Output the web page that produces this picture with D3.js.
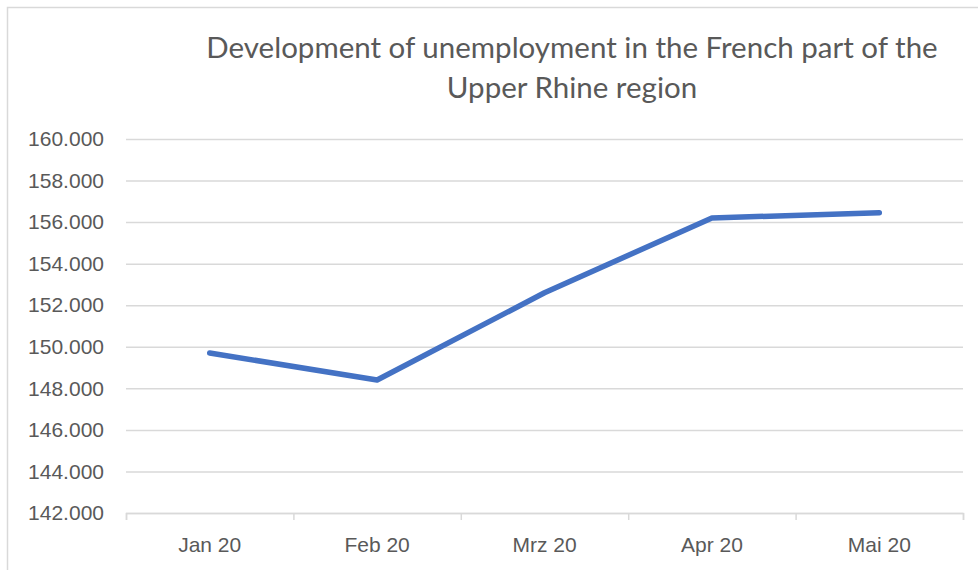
<!DOCTYPE html>
<html>
<head>
<meta charset="utf-8">
<script src="https://cdn.jsdelivr.net/npm/d3@7/dist/d3.min.js"></script>
<style>
  body { margin: 0; background: #fff; }
  svg { display: block; font-family: Lato, "Open Sans", sans-serif; }
  .axis path, .axis line { stroke: #d9d9d9; }
  .axis text { fill: #595959; }
</style>
</head>
<body>
<svg id="chart" width="978" height="570"></svg>
<script>
// chart data
var months = ["Jan 20", "Feb 20", "Mrz 20", "Apr 20", "Mai 20"];
var unemployed = [149700, 148400, 152600, 156200, 156450];
var yTicks = [142000, 144000, 146000, 148000, 150000, 152000, 154000, 156000, 158000, 160000];
var titleLines = ["Development of unemployment in the French part of the", "Upper Rhine region"];

var svg = d3.select("#chart");
var margin = { top: 139, right: 15, bottom: 57, left: 126 };
var width = +svg.attr("width") - margin.left - margin.right;
var height = +svg.attr("height") - margin.top - margin.bottom;

// outer frame
svg.append("rect")
  .attr("x", 7.5).attr("y", 7.5)
  .attr("width", 980).attr("height", 580)
  .attr("fill", "none")
  .attr("stroke", "#d9d9d9")
  .attr("stroke-width", 1.5);

// title
svg.append("text")
  .attr("x", 572)
  .attr("y", 58)
  .attr("text-anchor", "middle")
  .attr("font-size", 29.5)
  .attr("fill", "#595959")
  .selectAll("tspan")
  .data(titleLines)
  .enter().append("tspan")
  .attr("x", 572)
  .attr("dy", (d, i) => i == 0 ? 0 : 40)
  .text((d) => d);

var g = svg.append("g")
  .attr("transform", "translate(" + margin.left + "," + margin.top + ")");

var de = d3.formatLocale({ decimal: ",", thousands: ".", grouping: [3], currency: ["", "€"] });

var x = d3.scaleBand().domain(months).range([0, width]);
var xEdge = d3.scaleLinear().domain([0, months.length]).range([0, width]);
var y = d3.scaleLinear().domain([142000, 160000]).range([height, 0]);

// gridlines + y labels
g.append("g")
  .attr("class", "axis axis--y")
  .call(d3.axisLeft(y).tickValues(yTicks).tickSize(-width).tickPadding(22).tickFormat(de.format(",.0f")))
  .call((s) => s.select(".domain").remove())
  .call((s) => s.selectAll(".tick line").attr("stroke-width", 1.5))
  .call((s) => s.selectAll(".tick text").attr("font-size", 21));

// x axis line with ticks at category edges
g.append("g")
  .attr("class", "axis axis--x")
  .attr("transform", "translate(0," + height + ")")
  .call(d3.axisBottom(xEdge).tickValues(d3.range(months.length + 1)).tickSize(7).tickFormat(""))
  .call((s) => s.selectAll("path, line").attr("stroke-width", 1.5));

// x labels
g.append("g")
  .attr("class", "axis axis--x-labels")
  .attr("transform", "translate(0," + height + ")")
  .call(d3.axisBottom(x).tickSize(0).tickPadding(24))
  .call((s) => s.select(".domain").remove())
  .call((s) => s.selectAll(".tick text").attr("font-size", 21));

// line
var line = d3.line()
  .x((d, i) => x(months[i]) + x.bandwidth() / 2)
  .y((d) => y(d));

g.append("path")
  .datum(unemployed)
  .attr("fill", "none")
  .attr("stroke", "#4472c4")
  .attr("stroke-width", 5.5)
  .attr("stroke-linecap", "round")
  .attr("stroke-linejoin", "round")
  .attr("d", line);
</script>
</body>
</html>
